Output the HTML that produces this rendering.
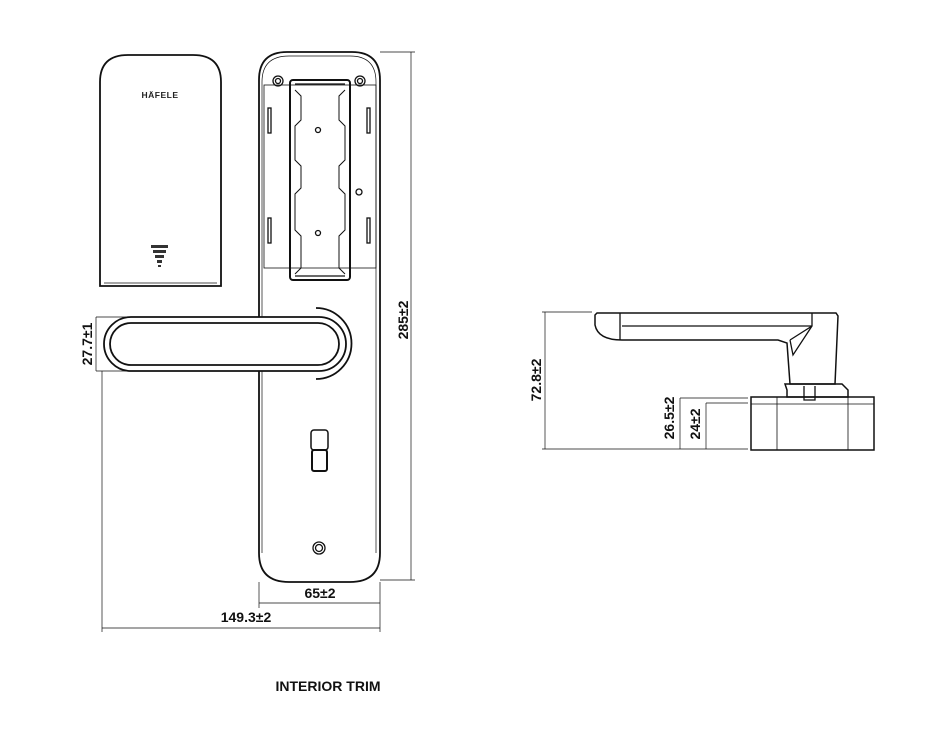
<!DOCTYPE html>
<html><head><style>
body{margin:0;background:#fff;}
svg{display:block;font-family:"Liberation Sans",Arial,sans-serif;}
</style></head><body>
<svg width="946" height="734" viewBox="0 0 946 734" fill="none" stroke="#111" stroke-width="1.3">
<!-- cover -->
<path d="M100,286 V82 Q100,55 128,55 H193 Q221,55 221,82 V286 Z" stroke-width="1.8"/>
<path d="M104,283 H217" stroke-width="0.8"/>
<text x="160" y="98" font-size="8.5" font-weight="bold" fill="#222" stroke="none" text-anchor="middle" letter-spacing="0.5">HÄFELE</text>
<g fill="#333" stroke="none"><rect x="151" y="245" width="17" height="3"/><rect x="153" y="250" width="13" height="3"/><rect x="155" y="255" width="9" height="3"/><rect x="157" y="260" width="5" height="3"/><rect x="158" y="265" width="3" height="2"/></g>
<!-- backplate -->
<path d="M259,553 V80 Q259,52 287,52 H352 Q380,52 380,80 V553 Q380,582 350,582 H289 Q259,582 259,553 Z" stroke-width="1.8"/>
<path d="M262,553 V82 Q262,56 289,56 H350 Q376,56 376,82 V553" stroke-width="0.7"/>
<rect x="264" y="85" width="112" height="183" stroke-width="0.8"/>
<circle cx="278" cy="81" r="5"/><circle cx="278" cy="81" r="2.5"/>
<circle cx="360" cy="81" r="5"/><circle cx="360" cy="81" r="2.5"/>
<rect x="268" y="108" width="3" height="25"/><rect x="268" y="218" width="3" height="25"/>
<rect x="367" y="108" width="3" height="25"/><rect x="367" y="218" width="3" height="25"/>
<circle cx="359" cy="192" r="3"/>
<!-- battery holder -->
<rect x="290" y="80" width="60" height="200" rx="3" stroke-width="2"/>
<path d="M295,84 H345 M295,276 H345"/>
<path d="M295,90 L301,96 V120 L295,126 V160 L301,166 V188 L295,194 V230 L301,236 V268 L295,274 M345,90 L339,96 V120 L345,126 V160 L339,166 V188 L345,194 V230 L339,236 V268 L345,274" stroke-width="1"/>
<circle cx="318" cy="130" r="2.5"/><circle cx="318" cy="233" r="2.5"/>
<!-- handle -->
<path d="M316,308 A35,35 0 1 1 316,379" stroke-width="1.8"/>
<rect x="104" y="317" width="242" height="54" rx="27" fill="#fff" stroke-width="1.8"/>
<rect x="110" y="323" width="229" height="42" rx="21" stroke-width="1.8"/>
<!-- fingerprint -->
<rect x="311" y="430" width="17" height="20" rx="3" stroke-width="1.5"/>
<rect x="312" y="450" width="15" height="21" rx="2" stroke-width="2"/>
<circle cx="319" cy="548" r="6"/><circle cx="319" cy="548" r="3.5"/>
<!-- dims left -->
<g stroke-width="0.7">
<path d="M96,317 V371 M96,317 H170 M96,371 H170"/>
<path d="M102,371 V632 M380,582 V632 M259,582 V608"/>
<path d="M259,603 H380 M102,628 H380"/>
<path d="M380,52 H415 M380,580 H415 M411,52 V580"/>
</g>
<g fill="#111" stroke="none" font-weight="bold" font-size="14">
<text x="87" y="344" text-anchor="middle" transform="rotate(-90 87 344)" dy="5">27.7±1</text>
<text x="403" y="320" text-anchor="middle" transform="rotate(-90 403 320)" dy="5">285±2</text>
<text x="320" y="598" text-anchor="middle">65±2</text>
<text x="246" y="622" text-anchor="middle">149.3±2</text>
<text x="328" y="691" text-anchor="middle" font-size="14">INTERIOR TRIM</text>
<text x="536" y="380" text-anchor="middle" transform="rotate(-90 536 380)" dy="5">72.8±2</text>
<text x="669" y="418" text-anchor="middle" transform="rotate(-90 669 418)" dy="5">26.5±2</text>
<text x="695" y="424" text-anchor="middle" transform="rotate(-90 695 424)" dy="5">24±2</text>
</g>
<!-- side view -->
<g stroke-width="0.7">
<path d="M545,312 V449 M542,312 H592 M542,449 H748"/>
<path d="M680,398 V449 M680,398 H748 M706,403 V449 M706,403 H748"/>
</g>
<path d="M597,313 H836 L838,316 L835,384 H790 L787,343 L778,340 H622 Q598,340 595,325 V315 Z" stroke-width="1.5"/>
<path d="M620,313 V340 M622,326 H812 M812,313 V326 L812,326 L790,340 M790,340 L793,355 L812,326"/>
<path d="M785,384 H842 L848,390 V397 H787 V390 Z" stroke-width="1.5"/>
<path d="M804,386 V400 H815 V386"/>
<rect x="751" y="397" width="123" height="53" stroke-width="1.5"/>
<path d="M751,404 H874 M777,397 V450 M848,397 V450" stroke-width="0.8"/>
</svg>
</body></html>
